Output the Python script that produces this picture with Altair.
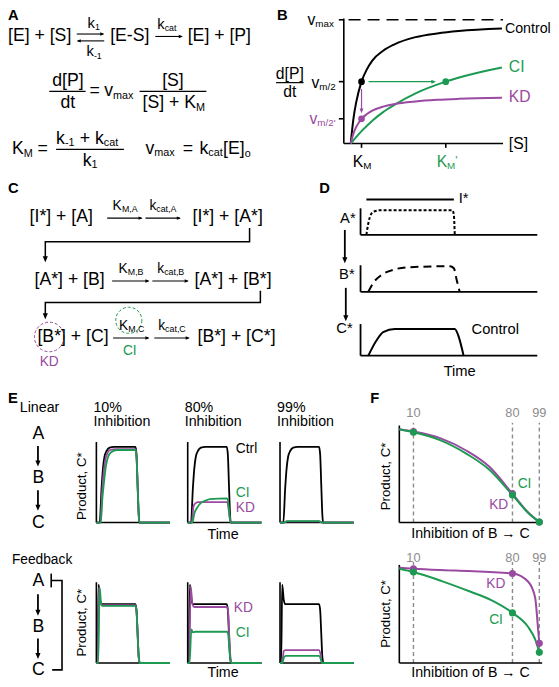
import altair as alt
import pandas as pd

FONT = "Liberation Sans"
GREEN = "#1d9a52"
PURPLE = "#9a4aa0"
INK = "#000000"
GREY = "#8c8c8c"

# ======================= DATA =======================
# Panel B: [S] in units of K_M, rate in units of vmax
B_S_CTRL = [0, 0.25, 0.5, 1, 1.5, 2, 3, 4, 6, 8, 10, 14]
B_V_CTRL = [0, 0.2, 0.33, 0.5, 0.6, 0.67, 0.75, 0.8, 0.86, 0.89, 0.91, 0.93]
B_S_CI = [0, 1, 2, 3, 4, 6, 8.8, 11, 14]
B_V_CI = [0, 0.10, 0.185, 0.254, 0.31, 0.405, 0.5, 0.556, 0.614]
B_S_KD = [0, 0.25, 0.5, 1, 1.5, 2, 3, 4, 6, 8, 10, 14]
B_V_KD = [0, 0.08, 0.132, 0.2, 0.238, 0.265, 0.298, 0.318, 0.34, 0.353, 0.361, 0.37]
B_KM, B_KM_CI = 1.0, 8.8
B_VMAX, B_VHALF, B_VHALF_KD = 1.0, 0.5, 0.2

# Panel D: time (a.u.) vs activity (a.u.)
D_T_ISTIM = [3.3, 52.8]
D_T_A = [3.3, 4.5, 6, 8, 11, 52, 52.8, 53.3]
D_L_A = [0, 0.5, 0.85, 0.96, 1.0, 1.0, 0.8, 0]
D_T_B = [4.4, 7.2, 11.7, 19.4, 26.7, 50.6, 52.8, 54.4, 56.1]
D_L_B = [0, 0.35, 0.65, 0.88, 0.96, 1.0, 0.92, 0.46, 0]
D_T_C = [4.4, 8.9, 12.8, 19.4, 53.3, 55.6, 58.3]
D_L_C = [0, 0.56, 0.89, 1.0, 1.0, 0.7, 0]

# Panel E: product C* over time, linear pathway (row 1) and feedback (row 2)
E_INHIB = ["10%", "80%", "99%"]
E1_T_CTRL = [0, 4.5, 7, 9, 11, 14, 18, 24, 53, 54.5, 56, 57.5, 58.5, 100]
E1_L_CTRL = [0, 0, 0.45, 0.72, 0.87, 0.95, 0.99, 1.0, 1.0, 0.9, 0.5, 0.1, 0, 0]
E1_KD = [
    ([0, 5.5, 7.5, 9.5, 12, 15, 19, 26, 53, 54.5, 56, 57.5, 58.7, 100],
     [0, 0, 0.35, 0.62, 0.82, 0.92, 0.96, 0.97, 0.97, 0.87, 0.48, 0.1, 0, 0]),
    ([0, 5.5, 8, 11, 14, 53, 54.5, 56, 57.5, 58.7, 100],
     [0, 0, 0.22, 0.26, 0.27, 0.27, 0.25, 0.14, 0.03, 0, 0]),
    ([0, 5, 9, 53, 56, 58.5, 100],
     [0, 0, 0.015, 0.015, 0.005, 0, 0]),
]
E1_CI = [
    ([0, 6, 8, 10, 13, 16, 20, 28, 53, 54.5, 56, 57.5, 58.7, 100],
     [0, 0, 0.3, 0.5, 0.75, 0.87, 0.93, 0.96, 0.96, 0.86, 0.48, 0.1, 0, 0]),
    ([0, 6.3, 9, 13, 18, 24, 30, 53, 54.5, 56, 57.5, 58.7, 100],
     [0, 0, 0.12, 0.2, 0.26, 0.29, 0.31, 0.32, 0.3, 0.17, 0.04, 0, 0]),
    ([0, 5, 10, 53, 56, 58.5, 100],
     [0, 0, 0.02, 0.02, 0.005, 0, 0]),
]
E2_T_CTRL = [0, 1.5, 3, 5, 7, 9, 53, 54.5, 56, 57.5, 59, 100]
E2_L_CTRL = [0, 0, 1.33, 1.08, 1.0, 1.0, 1.0, 0.9, 0.5, 0.1, 0, 0]
E2_KD = [
    ([0, 1.8, 3.3, 5.3, 7.3, 9, 53, 54.5, 56, 57.5, 59, 100],
     [0, 0, 1.28, 1.02, 0.98, 0.98, 0.98, 0.88, 0.49, 0.1, 0, 0]),
    ([0, 2, 4, 6.5, 9, 53.5, 55, 56.5, 58, 59.5, 100],
     [0, 0, 1.3, 1.0, 0.95, 0.95, 0.85, 0.45, 0.1, 0, 0]),
    ([0, 3, 5, 7, 53, 55, 57, 100],
     [0, 0, 0.2, 0.22, 0.22, 0.15, 0, 0]),
]
E2_CI = [
    ([0, 2.5, 4.5, 6.5, 8.5, 10, 53, 54.5, 56, 57.5, 59, 100],
     [0, 0, 1.28, 1.0, 0.97, 0.97, 0.97, 0.87, 0.48, 0.1, 0, 0]),
    ([0, 2.5, 5, 7, 10, 53.5, 55, 56.5, 58, 59.5, 100],
     [0, 0, 0.57, 0.52, 0.53, 0.53, 0.48, 0.25, 0.05, 0, 0]),
    ([0, 3, 5.5, 8, 53, 55, 57, 100],
     [0, 0, 0.1, 0.12, 0.12, 0.08, 0, 0]),
]

# Panel F: product C* vs % inhibition of B -> C
F_MARKS = [10, 80, 99]
F1_P_CI = [0, 10, 28.8, 47.6, 63.5, 80, 91, 99]
F1_CI = [1.0, 0.968, 0.884, 0.737, 0.568, 0.295, 0.105, 0.005]
F1_P_KD = [0, 10, 28.8, 47.6, 63.5, 80, 91, 99]
F1_KD = [1.0, 0.975, 0.905, 0.77, 0.6, 0.31, 0.11, 0.005]
F1_DOT_CI = [0.968, 0.295, 0.005]
F1_DOT_KD = [0.975, 0.31, 0.005]
F2_P_KD = [0, 10, 40, 80, 91, 96, 98, 99]
F2_KD = [1.0, 0.99, 0.97, 0.94, 0.856, 0.69, 0.38, 0.206]
F2_P_CI = [0, 10, 30, 50, 65, 80, 91, 96, 99]
F2_CI = [0.99, 0.955, 0.86, 0.75, 0.66, 0.526, 0.38, 0.25, 0.113]
F2_DOT_KD = [0.99, 0.94, 0.206]
F2_DOT_CI = [0.955, 0.526, 0.113]

# ======================= LAYOUT =======================
W, H = 543, 671
K = 0.982


def rx(v):
    return (v - 3) * K


def ry(v):
    return (v - 3) * K


CX = alt.Scale(domain=[3, 3 + W / K], range=[0, W], nice=False, zero=False)
CY = alt.Scale(domain=[3, 3 + H / K], range=[0, H], nice=False, zero=False)

# frames: (domain0, domain1, pixel0, pixel1) for x and y
FRAMES = {
    "B": ((0, 14, 352, 506), (0, 1, 141, 15)),
    "DA": ((0, 100, 362, 542), (0, 1, 234, 209)),
    "DB": ((0, 100, 362, 542), (0, 1, 292, 266)),
    "DC": ((0, 100, 362, 542), (0, 1, 357, 330)),
    "F1": ((0, 100, 401.5, 545.5), (0, 1, 527, 432)),
    "F2": ((0, 100, 401.5, 545.5), (0, 1, 670, 573)),
}
E_LEFT = [93, 186, 280]
for j, left in enumerate(E_LEFT):
    FRAMES[f"E1{j}"] = ((0, 100, left, left + 75), (0, 1, 527, 450))
    FRAMES[f"E2{j}"] = ((0, 100, left, left + 75), (0, 1, 670, 610))


def frame(key):
    (a, b, p, q), (c, d, r, s) = FRAMES[key]
    sx = alt.Scale(domain=[a, b], range=[rx(p), rx(q)], nice=False, zero=False)
    sy = alt.Scale(domain=[c, d], range=[ry(r), ry(s)], nice=False, zero=False)
    return sx, sy


def xy(sx, sy):
    return dict(x=alt.X("x:Q", scale=sx, axis=None), y=alt.Y("y:Q", scale=sy, axis=None))


def curve(xs, ys, sx, sy, color, width=2.0, dash=None, interp="monotone"):
    df = pd.DataFrame({"x": xs, "y": ys, "i": list(range(len(xs)))})
    kw = dict(color=color, strokeWidth=width, interpolate=interp, strokeJoin="miter")
    if dash:
        kw["strokeDash"] = dash
    return alt.Chart(df).mark_line(**kw).encode(order="i:Q", **xy(sx, sy))


def segs(rows, sx, sy, color, width=1.5, dash=None):
    df = pd.DataFrame(rows, columns=["x", "y", "x2", "y2"])
    kw = dict(color=color, strokeWidth=width)
    if dash:
        kw["strokeDash"] = dash
    return alt.Chart(df).mark_rule(**kw).encode(
        x=alt.X("x:Q", scale=sx, axis=None), x2="x2:Q",
        y=alt.Y("y:Q", scale=sy, axis=None), y2="y2:Q")


HEAD = "M0,0L-1,-0.42L-1,0.42Z"


def heads(rows, sx, sy, color, size):
    df = pd.DataFrame(rows, columns=["x", "y", "a"])
    return alt.Chart(df).mark_point(shape=HEAD, filled=True, opacity=1, size=size,
                                    color=color, strokeWidth=0).encode(
        angle=alt.Angle("a:Q", scale=None), **xy(sx, sy))


def dots(xs, ys, sx, sy, color, size=48):
    df = pd.DataFrame({"x": xs, "y": ys})
    return alt.Chart(df).mark_point(shape="circle", filled=True, opacity=1, size=size,
                                    color=color, strokeWidth=0).encode(**xy(sx, sy))


def ring(x, y, r, color):
    df = pd.DataFrame({"x": [x], "y": [y]})
    return alt.Chart(df).mark_point(shape="circle", filled=False, opacity=1,
                                    size=3.1416 * (r * K) ** 2, color=color,
                                    strokeWidth=1, strokeDash=[3, 2]).encode(**xy(CX, CY))


def texts(items, align="left", weight="normal", angle=0, sx=CX, sy=CY):
    df = pd.DataFrame(items, columns=["t", "x", "y", "s", "c"])
    df["s"] = df["s"] * K
    kw = dict(align=align, baseline="middle", font=FONT, fontWeight=weight)
    if angle:
        kw["angle"] = angle
    return alt.Chart(df).mark_text(**kw).encode(
        text="t:N", size=alt.Size("s:Q", scale=None, legend=None),
        color=alt.Color("c:N", scale=None, legend=None), **xy(sx, sy))


layers = []

# ---------------- Panel A & C diagrams (canvas) ----------------
layers.append(segs([
    (45, 88, 82, 88), (137, 88, 205, 88), (52, 147, 121, 147), (276, 79, 304, 79),
], CX, CY, INK, 1.2))
# reaction arrows
layers.append(segs([
    (73, 29.5, 100, 29.5), (74, 36.5, 101, 36.5), (153, 32, 180, 32),
    (104, 217, 139, 217), (143, 217, 178, 217),
    (109, 281, 146, 281), (150, 281, 186, 281),
    (110, 339, 146, 339), (152, 339, 187, 339),
], CX, CY, INK, 1.1))
layers.append(heads([
    (101, 29.5, 0), (73, 36.5, 180), (181, 32, 0),
    (140, 217, 0), (179, 217, 0), (147, 281, 0), (187, 281, 0),
    (147, 339, 0), (188, 339, 0),
], CX, CY, INK, 64))
# C brackets
layers.append(curve([249, 249, 41, 41], [227, 241, 241, 259], CX, CY, INK, 1.5, interp="linear"))
layers.append(curve([260, 260, 41, 41], [291, 303, 303, 317], CX, CY, INK, 1.5, interp="linear"))
# D / E vertical arrows
layers.append(segs([
    (346, 229, 346, 260), (347, 288, 347, 319),
    (33.5, 449, 33.5, 467), (33.5, 494, 33.5, 512),
    (33.5, 600, 33.5, 619), (33.5, 645, 33.5, 663),
], CX, CY, INK, 1.8))
layers.append(heads([
    (41, 262, 90), (41, 320, 90),
    (346, 263, 90), (347, 322, 90),
    (33.5, 470, 90), (33.5, 515, 90), (33.5, 622, 90), (33.5, 666, 90),
], CX, CY, INK, 150))
# feedback bracket
layers.append(curve([47, 58, 58, 48], [586, 586, 677, 677], CX, CY, INK, 1.6, interp="linear"))
layers.append(segs([(47, 579, 47, 593)], CX, CY, INK, 1.6))
# dashed circles
layers.append(ring(45, 338, 17, PURPLE))
layers.append(ring(126, 321, 15, GREEN))

# ---------------- Panel B ----------------
bx, by = frame("B")
layers.append(segs([(-0.64, 0, -0.64, 1.01), (-0.64, 0, 14.1, 0),
                    (-1.1, B_VMAX, -0.64, B_VMAX), (-1.1, B_VHALF, -0.64, B_VHALF),
                    (-1.1, B_VHALF_KD, -0.64, B_VHALF_KD),
                    (B_KM, 0, B_KM, -0.035), (B_KM_CI, 0, B_KM_CI, -0.035)], bx, by, INK, 1.6))
layers.append(segs([(-0.2, B_VMAX, 14.1, B_VMAX)], bx, by, INK, 1.6, dash=[12, 7]))
layers.append(curve(B_S_CTRL, B_V_CTRL, bx, by, INK, 2))
layers.append(curve(B_S_CI, B_V_CI, bx, by, GREEN, 2))
layers.append(curve(B_S_KD, B_V_KD, bx, by, PURPLE, 2))
layers.append(segs([(1.65, B_VHALF, 7.7, B_VHALF)], bx, by, GREEN, 1.2))
layers.append(heads([(7.9, B_VHALF, 0)], bx, by, GREEN, 90))
layers.append(segs([(B_KM, 0.44, B_KM, 0.26)], bx, by, PURPLE, 1.2))
layers.append(heads([(B_KM, 0.245, 90)], bx, by, PURPLE, 90))
layers.append(dots([B_KM], [B_VHALF], bx, by, INK, 45))
layers.append(dots([B_KM_CI], [B_VHALF], bx, by, GREEN, 45))
layers.append(dots([B_KM], [B_VHALF_KD], bx, by, PURPLE, 45))

# ---------------- Panel D ----------------
for key, ts, ls, dash, top in [("DA", D_T_A, D_L_A, [3, 2], 1.08),
                               ("DB", D_T_B, D_L_B, [8, 5], 1.04),
                               ("DC", D_T_C, D_L_C, None, 1.19)]:
    sx, sy = frame(key)
    layers.append(segs([(0, 0, 0, top), (0, 0, 100, 0)], sx, sy, INK, 1.8))
    layers.append(curve(ts, ls, sx, sy, INK, 2, dash=dash))
sx, sy = frame("DA")
layers.append(segs([(D_T_ISTIM[0], 1.44, D_T_ISTIM[1], 1.44)], sx, sy, INK, 2))

# ---------------- Panel E ----------------
for j in range(3):
    sx, sy = frame(f"E1{j}")
    layers.append(segs([(0, 0, 0, 1.065), (0, 0, 100, 0)], sx, sy, INK, 1.6))
    layers.append(curve(E1_T_CTRL, E1_L_CTRL, sx, sy, INK, 1.8))
    layers.append(curve(E1_KD[j][0], E1_KD[j][1], sx, sy, PURPLE, 1.8))
    layers.append(curve(E1_CI[j][0], E1_CI[j][1], sx, sy, GREEN, 1.8))
    sx, sy = frame(f"E2{j}")
    layers.append(segs([(0, 0, 0, 1.37), (0, 0, 100, 0)], sx, sy, INK, 1.6))
    layers.append(curve(E2_T_CTRL, E2_L_CTRL, sx, sy, INK, 1.8))
    layers.append(curve(E2_KD[j][0], E2_KD[j][1], sx, sy, PURPLE, 1.8))
    layers.append(curve(E2_CI[j][0], E2_CI[j][1], sx, sy, GREEN, 1.8))

# ---------------- Panel F ----------------
for key, top, label_y, pk, kd, pc, ci, dkd, dci in [
        ("F1", 1.04, 1.17, F1_P_KD, F1_KD, F1_P_CI, F1_CI, F1_DOT_KD, F1_DOT_CI),
        ("F2", 1.03, 1.105, F2_P_KD, F2_KD, F2_P_CI, F2_CI, F2_DOT_KD, F2_DOT_CI)]:
    sx, sy = frame(key)
    layers.append(segs([(m, 0, m, top + 0.03) for m in F_MARKS], sx, sy, GREY, 1.4, dash=[4, 3]))
    layers.append(segs([(0, 0, 0, top), (0, 0, 101, 0)], sx, sy, INK, 1.6))
    layers.append(curve(pk, kd, sx, sy, PURPLE, 2))
    layers.append(curve(pc, ci, sx, sy, GREEN, 2))
    layers.append(dots(F_MARKS, dkd, sx, sy, PURPLE, 50))
    layers.append(dots(F_MARKS, dci, sx, sy, GREEN, 50))
    layers.append(texts([(str(m), m, label_y, 13, GREY) for m in F_MARKS], align="center", sx=sx, sy=sy))

# ---------------- Text ----------------
left_items = [
    # A
    ("[E] + [S]", 3, 32, 18, INK),
    ("k", 84, 19, 15, INK), ("1", 91.5, 22.5, 9, INK),
    ("k", 83, 48, 15, INK), ("-1", 90.5, 51.5, 9, INK),
    ("[E-S]", 107, 32, 18, INK),
    ("k", 155, 20, 15, INK), ("cat", 162.5, 23.5, 9, INK),
    ("[E] + [P]", 186, 32, 18, INK),
    ("=", 86, 88, 18, INK), ("v", 101, 88, 18, INK), ("max", 110, 93, 11, INK),
    ("[S] + K", 140, 100, 18, INK), ("M", 194.5, 105, 11, INK),
    ("K", 7, 147, 18, INK), ("M", 19, 152, 11, INK), ("=", 33, 147, 18, INK),
    ("k", 52, 136, 18, INK), ("-1", 61, 140, 11, INK), ("+", 76, 136, 18, INK),
    ("k", 91.5, 136, 18, INK), ("cat", 100.5, 140, 11, INK),
    ("k", 79, 159, 18, INK), ("1", 88, 163, 11, INK),
    ("v", 143, 147, 18, INK), ("max", 152, 151, 11, INK), ("=", 181, 147, 18, INK),
    ("k", 198, 147, 18, INK), ("cat", 207, 151, 11, INK), ("[E]", 222, 147, 18, INK),
    ("o", 244, 152, 11, INK),
    # B
    ("v", 308, 15, 16, INK), ("max", 316, 19, 10, INK),
    ("v", 312, 79, 16, INK), ("m/2", 320, 83, 10, INK),
    ("v", 310, 116, 16, PURPLE), ("m/2'", 318, 120, 10, PURPLE),
    ("Control", 509, 24, 14.5, INK), ("CI", 513, 63, 16, GREEN), ("KD", 513, 94, 16, PURPLE),
    ("[S]", 513, 141, 16, INK),
    ("K", 354, 160, 16, INK), ("M", 364.7, 164, 10, INK),
    ("K", 439.5, 160, 16, GREEN), ("M", 450, 164, 10, GREEN), ("'", 458.5, 158, 12, GREEN),
    # C
    ("[I*] + [A]", 25, 216, 18, INK),
    ("K", 109.5, 205, 14, INK), ("M,A", 119, 208, 9, INK),
    ("k", 147, 205, 14, INK), ("cat,A", 154, 208, 9, INK),
    ("[I*] + [A*]", 191, 216, 18, INK),
    ("[A*] + [B]", 30, 280, 18, INK),
    ("K", 115.5, 269, 14, INK), ("M,B", 125, 272, 9, INK),
    ("k", 155, 269, 14, INK), ("cat,B", 162, 272, 9, INK),
    ("[A*] + [B*]", 193, 280, 18, INK),
    ("[B*] + [C]", 33, 338, 18, INK),
    ("K", 116, 327, 14, INK), ("M,C", 125.5, 330, 9, INK),
    ("k", 156, 327, 14, INK), ("cat,C", 163, 330, 9, INK),
    ("[B*] + [C*]", 196, 338, 18, INK),
    # D
    ("I*", 462, 197, 15, INK), ("Control", 475, 331, 15, INK),
    # E
    ("Linear", 15, 410, 14.5, INK), ("Feedback", 7, 565, 14, INK),
    ("Ctrl", 235, 452, 14, INK), ("CI", 235, 497, 14, GREEN), ("KD", 235, 512, 14, PURPLE),
    ("KD", 233, 614, 14, PURPLE), ("CI", 235, 639, 14, GREEN),
    # F
    ("CI", 522, 488, 14, GREEN), ("KD", 493, 509, 14, PURPLE),
    ("KD", 490, 590, 14, PURPLE), ("CI", 493, 626, 14, GREEN),
]
for j, lab in enumerate(E_INHIB):
    left_items.append((lab, E_LEFT[j] - 3, 410, 14.5, INK))
    left_items.append(("Inhibition", E_LEFT[j] - 3, 425, 14.5, INK))

center_items = [
    ("d[P]", 64, 77, 18, INK), ("dt", 64, 100, 18, INK), ("[S]", 171, 77, 18, INK),
    ("d[P]", 290, 70, 16, INK), ("dt", 290, 89, 16, INK),
    ("KD", 45, 363, 14, PURPLE), ("CI", 127, 352, 14, GREEN),
    ("Time", 463, 374, 15, INK),
    ("A", 34, 437, 18, INK), ("B", 34, 482, 18, INK), ("C", 34, 527, 18, INK),
    ("A", 34, 587, 18, INK), ("B", 34, 633, 18, INK), ("C", 34, 677, 18, INK),
    ("Time", 222, 540, 14.5, INK), ("Time", 222, 680, 14.5, INK),
    ("Inhibition of B \u2192 C", 474, 539, 14.5, INK),
    ("Inhibition of B \u2192 C", 474, 680, 14.5, INK),
]
right_items = [
    ("A*", 357, 218, 15, INK), ("B*", 356, 275, 15, INK), ("C*", 354, 330, 15, INK),
]
bold_items = [
    ("A", 3, 11.5, 15, INK), ("B", 277, 11.5, 15, INK), ("C", 3, 187, 15, INK),
    ("D", 320, 187, 15, INK), ("E", 3, 401, 15, INK), ("F", 372, 401, 15, INK),
]
rot_items = [
    ("Product, C*", 78, 490, 13.5, INK), ("Product, C*", 78, 629, 13.5, INK),
    ("Product, C*", 388, 480, 13.5, INK), ("Product, C*", 388, 620, 13.5, INK),
]
layers.append(texts(left_items))
layers.append(texts(center_items, align="center"))
layers.append(texts(right_items, align="right"))
layers.append(texts(bold_items, weight="bold"))
layers.append(texts(rot_items, align="center", angle=270))

chart = alt.layer(*layers).resolve_scale(x="independent", y="independent").properties(
    width=W, height=H, autosize=alt.AutoSizeParams(type="none"), padding=0
).configure_view(stroke=None)

chart.save("out.html", embed_options={"renderer": "svg", "actions": False})
